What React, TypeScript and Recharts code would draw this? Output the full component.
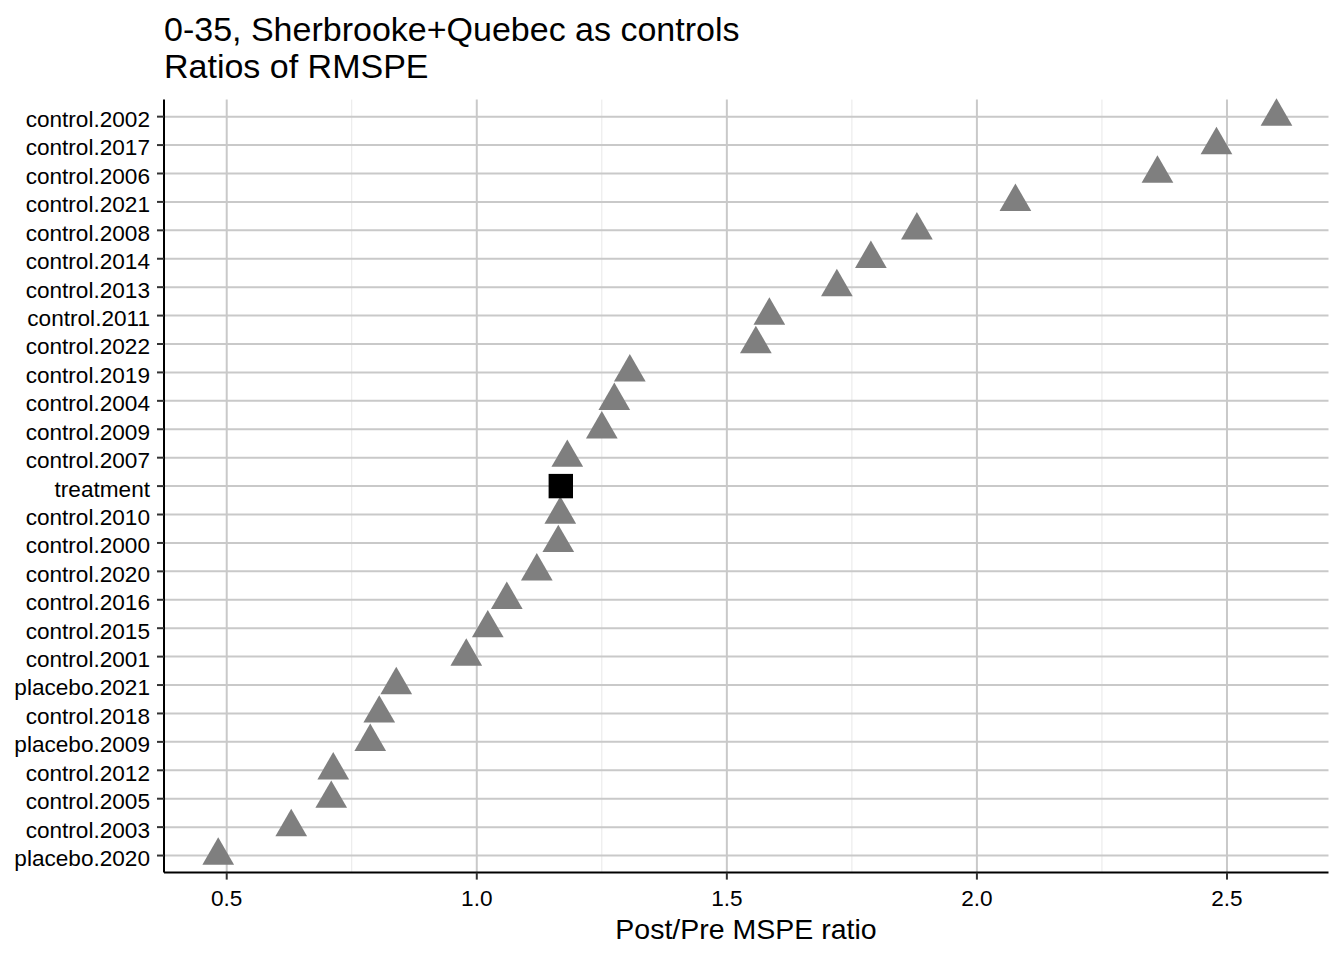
import { ScatterChart, Scatter, XAxis, YAxis, CartesianGrid } from "recharts";

const FONT = "'Liberation Sans', Arial, Helvetica, sans-serif";

// categories as they appear from top to bottom
const labels = [
  "control.2002",
  "control.2017",
  "control.2006",
  "control.2021",
  "control.2008",
  "control.2014",
  "control.2013",
  "control.2011",
  "control.2022",
  "control.2019",
  "control.2004",
  "control.2009",
  "control.2007",
  "treatment",
  "control.2010",
  "control.2000",
  "control.2020",
  "control.2016",
  "control.2015",
  "control.2001",
  "placebo.2021",
  "control.2018",
  "placebo.2009",
  "control.2012",
  "control.2005",
  "control.2003",
  "placebo.2020",
];

// post/pre MSPE ratio, same order as labels
const ratios = [
  2.599, 2.479, 2.361, 2.077, 1.88, 1.788, 1.72, 1.585, 1.558, 1.306, 1.275, 1.25, 1.181,
  1.168, 1.167, 1.163, 1.12, 1.06, 1.022, 0.979, 0.839, 0.805, 0.787, 0.713, 0.709, 0.629,
  0.483,
];

const xTicks = [0.5, 1.0, 1.5, 2.0, 2.5];
const xMinor = [0.75, 1.25, 1.75, 2.25];

const rows = labels.map((name, i) => ({ name, ratio: ratios[i], row: labels.length - i }));
const controls = rows.filter((r) => r.name !== "treatment");
const treated = rows.filter((r) => r.name === "treatment");
const yTicks = rows.map((r) => r.row);

function Triangle(props: any) {
  const { cx, cy } = props;
  const s = 31.7;
  const h = (s * Math.sqrt(3)) / 2;
  const pts = `${cx},${cy - (2 * h) / 3} ${cx - s / 2},${cy + h / 3} ${cx + s / 2},${cy + h / 3}`;
  return <polygon points={pts} fill="#7f7f7f" />;
}

function Square(props: any) {
  const { cx, cy } = props;
  const s = 24.4;
  return <rect x={cx - s / 2} y={cy - s / 2} width={s} height={s} fill="#000" />;
}

function YTick(props: any) {
  const { x, y, payload } = props;
  return (
    <text x={x} y={y + 10.4} textAnchor="end" fontSize={22.6} fill="#000" fontFamily={FONT}>
      {labels[labels.length - payload.value]}
    </text>
  );
}

function XTick(props: any) {
  const { x, y, payload } = props;
  return (
    <text x={x} y={y + 26.4} textAnchor="middle" fontSize={22.6} fill="#000" fontFamily={FONT}>
      {Number(payload.value).toFixed(1)}
    </text>
  );
}

export default function App() {
  return (
    <div style={{ position: "absolute", left: 0, top: 0, width: 1344, height: 960, background: "#fff" }}>
      <ScatterChart width={1344} height={960} margin={{ top: 99.6, right: 15.5, bottom: 0, left: 0 }}>
        <CartesianGrid horizontal={false} verticalValues={xMinor} stroke="#e8e8e8" strokeWidth={1} />
        <CartesianGrid horizontalValues={yTicks} verticalValues={xTicks} stroke="#c9c9c9" strokeWidth={2} />
        <XAxis
          type="number"
          dataKey="ratio"
          domain={[0.3746, 2.703]}
          ticks={xTicks}
          interval={0}
          height={87.4}
          tickSize={7}
          tickMargin={0}
          axisLine={{ stroke: "#000", strokeWidth: 2 }}
          tickLine={{ stroke: "#333", strokeWidth: 2 }}
          tick={<XTick />}
        />
        <YAxis
          type="number"
          dataKey="row"
          domain={[0.4, 27.6]}
          ticks={yTicks}
          interval={0}
          width={164}
          tickSize={7}
          tickMargin={7}
          axisLine={{ stroke: "#000", strokeWidth: 2 }}
          tickLine={{ stroke: "#333", strokeWidth: 2 }}
          tick={<YTick />}
        />
        <Scatter data={controls} shape={<Triangle />} isAnimationActive={false} />
        <Scatter data={treated} shape={<Square />} isAnimationActive={false} />
      </ScatterChart>
      <svg
        width={1344}
        height={960}
        style={{ position: "absolute", left: 0, top: 0, pointerEvents: "none" }}
      >
        <text x={164} y={41} fontSize={34} fill="#000" fontFamily={FONT}>
          0-35, Sherbrooke+Quebec as controls
        </text>
        <text x={164} y={78} fontSize={34} fill="#000" fontFamily={FONT}>
          Ratios of RMSPE
        </text>
        <text x={746} y={939} fontSize={28.5} textAnchor="middle" fill="#000" fontFamily={FONT}>
          Post/Pre MSPE ratio
        </text>
      </svg>
    </div>
  );
}
